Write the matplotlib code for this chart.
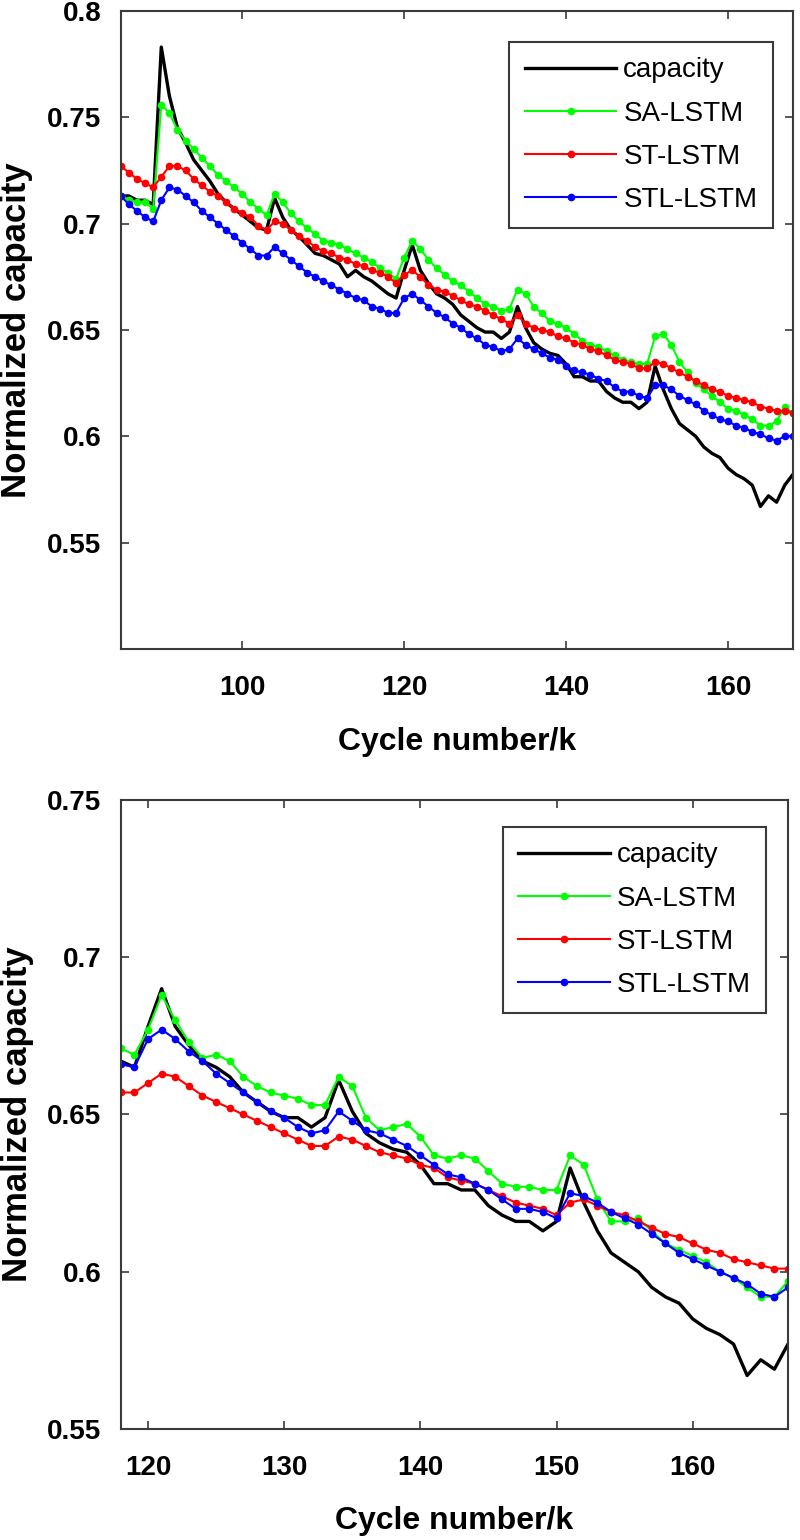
import numpy as np
import matplotlib
matplotlib.use("Agg")
import matplotlib.pyplot as plt

# --- data ---
top_cycles = np.arange(85, 169)
bottom_cycles = np.arange(118, 168)

capacity = [
    0.713, 0.713, 0.711, 0.711, 0.709,
    0.783, 0.760, 0.745, 0.738, 0.730, 0.725, 0.720, 0.714, 0.710, 0.707,
    0.704, 0.701, 0.698, 0.697, 0.712, 0.703, 0.697, 0.694, 0.690, 0.686,
    0.685, 0.683, 0.681, 0.675, 0.678, 0.675, 0.673, 0.670, 0.667, 0.665,
    0.678, 0.690, 0.678, 0.672, 0.667, 0.665, 0.662, 0.657, 0.654, 0.651,
    0.649, 0.649, 0.646, 0.649, 0.661, 0.651, 0.644, 0.641, 0.639, 0.638,
    0.634, 0.628, 0.628, 0.626, 0.626, 0.621, 0.618, 0.616, 0.616, 0.613,
    0.616, 0.633, 0.622, 0.613, 0.606, 0.603, 0.600, 0.595, 0.592, 0.590,
    0.585, 0.582, 0.580, 0.577, 0.567, 0.572, 0.569, 0.577, 0.582,
]

sa_top = [
    0.713, 0.711, 0.710, 0.710, 0.707,
    0.756, 0.752, 0.744, 0.739, 0.735, 0.731, 0.727, 0.723, 0.720, 0.717,
    0.714, 0.710, 0.707, 0.704, 0.714, 0.710, 0.705, 0.701, 0.698, 0.695,
    0.692, 0.691, 0.690, 0.688, 0.686, 0.684, 0.682, 0.679, 0.677, 0.674,
    0.684, 0.692, 0.688, 0.683, 0.679, 0.676, 0.673, 0.671, 0.668, 0.665,
    0.662, 0.661, 0.659, 0.660, 0.669, 0.667, 0.661, 0.658, 0.654, 0.653,
    0.651, 0.648, 0.645, 0.643, 0.642, 0.640, 0.638, 0.636, 0.635, 0.634,
    0.634, 0.647, 0.648, 0.643, 0.635, 0.630, 0.625, 0.622, 0.619, 0.616,
    0.613, 0.612, 0.610, 0.608, 0.605, 0.605, 0.607, 0.614, 0.611,
]

st_top = [
    0.727, 0.724, 0.721, 0.719, 0.717,
    0.722, 0.727, 0.727, 0.725, 0.721, 0.718, 0.715, 0.713, 0.710, 0.707,
    0.705, 0.703, 0.699, 0.697, 0.701, 0.700, 0.697, 0.694, 0.692, 0.689,
    0.687, 0.686, 0.684, 0.683, 0.681, 0.680, 0.678, 0.677, 0.675, 0.672,
    0.676, 0.678, 0.675, 0.671, 0.669, 0.668, 0.666, 0.664, 0.662, 0.661,
    0.659, 0.657, 0.655, 0.653, 0.657, 0.653, 0.651, 0.650, 0.649, 0.647,
    0.646, 0.644, 0.643, 0.641, 0.640, 0.638, 0.636, 0.635, 0.634, 0.632,
    0.632, 0.635, 0.634, 0.632, 0.630, 0.628, 0.626, 0.624, 0.622, 0.621,
    0.619, 0.618, 0.617, 0.616, 0.614, 0.613, 0.612, 0.612, 0.611,
]

stl_top = [
    0.713, 0.709, 0.706, 0.703, 0.701,
    0.711, 0.717, 0.716, 0.713, 0.710, 0.706, 0.703, 0.700, 0.697, 0.694,
    0.691, 0.688, 0.685, 0.685, 0.689, 0.686, 0.683, 0.680, 0.677, 0.675,
    0.673, 0.671, 0.669, 0.667, 0.665, 0.664, 0.661, 0.660, 0.658, 0.658,
    0.665, 0.667, 0.664, 0.661, 0.658, 0.656, 0.653, 0.651, 0.648, 0.646,
    0.643, 0.642, 0.640, 0.641, 0.646, 0.643, 0.641, 0.639, 0.637, 0.636,
    0.633, 0.631, 0.630, 0.629, 0.627, 0.626, 0.623, 0.621, 0.621, 0.619,
    0.618, 0.624, 0.624, 0.622, 0.619, 0.617, 0.615, 0.612, 0.610, 0.608,
    0.607, 0.605, 0.604, 0.602, 0.601, 0.599, 0.598, 0.600, 0.600,
]

sa_bottom = [
    0.671, 0.669, 0.677, 0.688, 0.680, 0.673, 0.668, 0.669, 0.667, 0.662,
    0.659, 0.657, 0.656, 0.655, 0.653, 0.653, 0.662, 0.659, 0.649, 0.645,
    0.646, 0.647, 0.643, 0.637, 0.636, 0.637, 0.636, 0.632, 0.628, 0.627,
    0.627, 0.626, 0.626, 0.637, 0.634, 0.623, 0.616, 0.616, 0.617, 0.613,
    0.609, 0.607, 0.605, 0.603, 0.600, 0.598, 0.595, 0.592, 0.592, 0.597,
]

st_bottom = [
    0.657, 0.657, 0.660, 0.663, 0.662, 0.659, 0.656, 0.654, 0.652, 0.650,
    0.648, 0.646, 0.644, 0.642, 0.640, 0.640, 0.643, 0.642, 0.640, 0.638,
    0.637, 0.636, 0.634, 0.633, 0.630, 0.629, 0.628, 0.626, 0.624, 0.622,
    0.621, 0.620, 0.618, 0.622, 0.623, 0.621, 0.619, 0.618, 0.616, 0.614,
    0.612, 0.611, 0.609, 0.607, 0.606, 0.604, 0.603, 0.602, 0.601, 0.601,
]

stl_bottom = [
    0.666, 0.665, 0.674, 0.677, 0.674, 0.670, 0.667, 0.663, 0.660, 0.657,
    0.654, 0.651, 0.649, 0.646, 0.644, 0.645, 0.651, 0.648, 0.645, 0.644,
    0.642, 0.640, 0.637, 0.634, 0.631, 0.630, 0.628, 0.626, 0.623, 0.620,
    0.620, 0.619, 0.617, 0.625, 0.624, 0.622, 0.619, 0.617, 0.615, 0.612,
    0.609, 0.606, 0.604, 0.602, 0.600, 0.598, 0.596, 0.593, 0.592, 0.595,
]

series_labels = ["capacity", "SA-LSTM", "ST-LSTM", "STL-LSTM"]

top_xticks = [100, 120, 140, 160]
top_yticks = [0.55, 0.6, 0.65, 0.7, 0.75, 0.8]
top_yticklabels = ["0.55", "0.6", "0.65", "0.7", "0.75", "0.8"]

bottom_xticks = [120, 130, 140, 150, 160]
bottom_yticks = [0.55, 0.6, 0.65, 0.7, 0.75]
bottom_yticklabels = ["0.55", "0.6", "0.65", "0.7", "0.75"]

SPINE = "#3a3a3a"


def style_axes(ax, xlim, ylim, xticks, yticks, yticklabels, legend_anchor):
    ax.set_xlim(*xlim)
    ax.set_ylim(*ylim)
    ax.set_xticks(xticks)
    ax.set_xticklabels([str(t) for t in xticks])
    ax.set_yticks(yticks)
    ax.set_yticklabels(yticklabels)
    for lab in ax.get_xticklabels() + ax.get_yticklabels():
        lab.set_fontweight("bold")
    ax.tick_params(axis="both", direction="in", length=6, width=1.2,
                   color=SPINE, labelsize=20, top=True, right=True)
    ax.tick_params(axis="x", pad=19)
    ax.tick_params(axis="y", pad=14)
    for sp in ax.spines.values():
        sp.set_color(SPINE)
        sp.set_linewidth(1.5)

    ax.set_xlabel("Cycle number/k", fontsize=23, fontweight="bold")
    ax.set_ylabel("Normalized capacity", fontsize=25, fontweight="bold")
    ax.xaxis.set_label_coords(0.5, -0.146)
    ax.yaxis.set_label_coords(-0.155, 0.5)
    ax.xaxis.label.set_va("center")
    ax.yaxis.label.set_va("center")

    leg = ax.legend(loc="upper right", bbox_to_anchor=legend_anchor,
                    borderaxespad=0.0, fontsize=20, handlelength=3.3,
                    handletextpad=0.25, labelspacing=0.62, borderpad=0.55,
                    numpoints=1, fancybox=False, framealpha=1.0)
    leg.get_frame().set_edgecolor(SPINE)
    leg.get_frame().set_linewidth(1.5)


def draw_panel(ax, cycles, cap, sa, st, stl):
    ax.plot(cycles, cap, color="black", linewidth=2.4, label=series_labels[0])
    ax.plot(cycles, sa, color="#00ff00", linewidth=1.5, marker="o",
            markersize=4.5, label=series_labels[1])
    ax.plot(cycles, st, color="#ff0000", linewidth=1.5, marker="o",
            markersize=4.5, label=series_labels[2])
    ax.plot(cycles, stl, color="#0000ff", linewidth=1.5, marker="o",
            markersize=4.5, label=series_labels[3])


plt.rcParams["font.family"] = ["Liberation Sans", "DejaVu Sans"]

fig = plt.figure(figsize=(8, 15.4), dpi=100)

ax_top = fig.add_axes([0.151, 0.5786, 0.840, 0.4143])
draw_panel(ax_top, top_cycles, capacity, sa_top, st_top, stl_top)
style_axes(ax_top, (85, 168), (0.5, 0.8), top_xticks, top_yticks,
           top_yticklabels, (0.970, 0.951))

n0 = 118 - 85
cap_bottom = capacity[n0:n0 + len(bottom_cycles)]
ax_bot = fig.add_axes([0.151, 0.0721, 0.834, 0.4084])
draw_panel(ax_bot, bottom_cycles, cap_bottom, sa_bottom, st_bottom, stl_bottom)
style_axes(ax_bot, (118, 167), (0.55, 0.75), bottom_xticks, bottom_yticks,
           bottom_yticklabels, (0.967, 0.957))

fig.savefig("out.png", dpi=100)
plt.close(fig)
